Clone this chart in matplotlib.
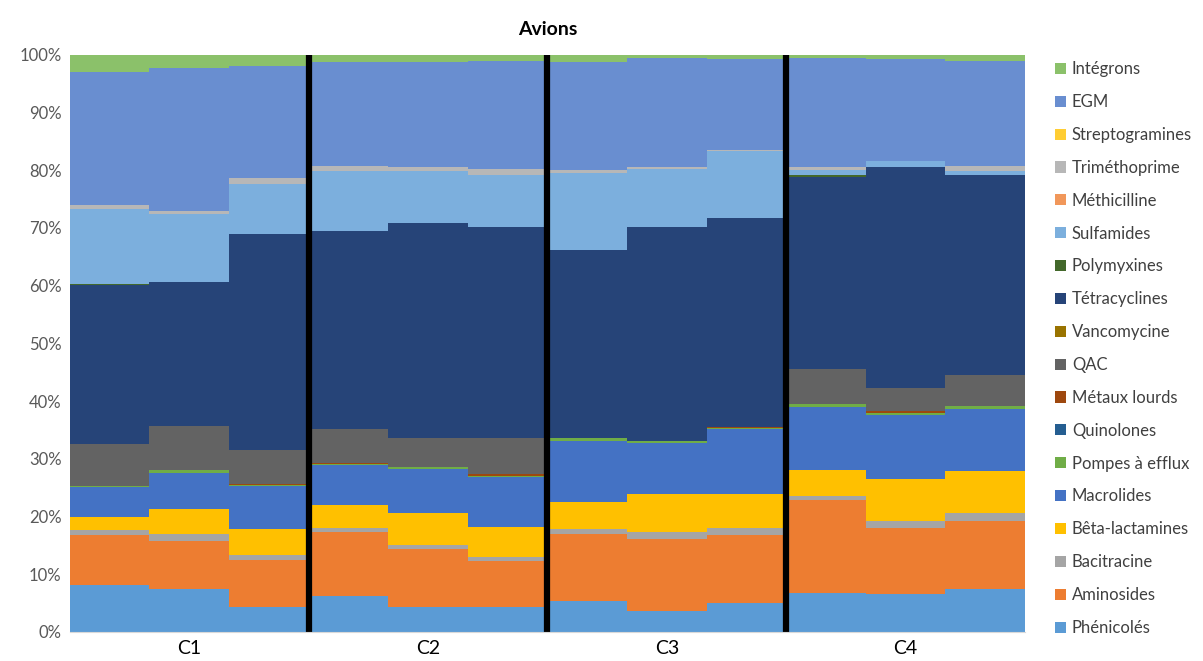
import matplotlib
matplotlib.use("Agg")
import matplotlib.pyplot as plt
import numpy as np

plt.rcParams['font.family'] = ['Lato', 'DejaVu Sans']

# stacking order: bottom -> top
categories = ["Phénicolés", "Aminosides", "Bacitracine", "Bêta-lactamines", "Macrolides",
              "Pompes à efflux", "Quinolones", "Métaux lourds", "QAC", "Vancomycine",
              "Tétracyclines", "Polymyxines", "Sulfamides", "Méthicilline", "Triméthoprime",
              "Streptogramines", "EGM", "Intégrons"]
colors = ["#5B9BD5", "#ED7D31", "#A5A5A5", "#FFC000", "#4472C4",
          "#70AD47", "#255E91", "#9E480E", "#636363", "#997300",
          "#264478", "#43682B", "#7CAFDD", "#F1975A", "#B7B7B7",
          "#FFCD33", "#698ED0", "#8BC16A"]

groups = ["C1", "C2", "C3", "C4"]

# % values per sample (3 samples per group)
phenicoles      = [8.1, 7.4, 4.3, 6.3, 4.3, 4.3, 5.3, 3.7, 5.1, 6.7, 6.5, 7.4]
aminosides      = [8.8, 8.4, 8.2, 11.1, 10.1, 8.0, 11.6, 12.4, 11.8, 16.2, 11.4, 11.8]
bacitracine     = [0.8, 1.1, 0.9, 0.6, 0.6, 0.6, 0.9, 1.3, 1.2, 0.7, 1.3, 1.4]
beta_lactamines = [2.2, 4.4, 4.5, 4.0, 5.6, 5.2, 4.7, 6.5, 5.8, 4.4, 7.3, 7.2]
macrolides      = [5.2, 6.3, 7.4, 7.0, 7.7, 8.8, 10.6, 8.9, 11.3, 10.9, 11.0, 10.8]
pompes          = [0.2, 0.4, 0.15, 0.15, 0.2, 0.2, 0.5, 0.2, 0.2, 0.6, 0.4, 0.6]
quinolones      = [0, 0, 0, 0, 0, 0, 0, 0, 0, 0, 0, 0]
metaux          = [0, 0, 0.15, 0.15, 0, 0.2, 0, 0, 0.15, 0, 0.3, 0]
qac             = [7.3, 7.6, 5.9, 5.8, 5.1, 6.3, 0, 0, 0, 6.0, 4.0, 5.4]
vancomycine     = [0, 0, 0, 0, 0, 0, 0, 0, 0, 0, 0, 0]
tetracyclines   = [27.6, 25.0, 37.5, 34.3, 37.2, 36.5, 32.5, 37.1, 36.3, 33.4, 38.2, 34.5]
polymyxines     = [0.2, 0, 0, 0, 0, 0, 0, 0, 0, 0.3, 0, 0]
sulfamides      = [13.1, 11.8, 8.7, 10.4, 9.0, 9.0, 13.4, 10.2, 11.6, 0.8, 0.9, 0.7]
methicilline    = [0, 0, 0, 0, 0, 0, 0, 0, 0, 0, 0, 0]
trimethoprime   = [0.7, 0.6, 0.9, 0.9, 0.7, 1.1, 0.5, 0.2, 0.2, 0.5, 0, 0.9]
streptogramines = [0, 0, 0, 0, 0, 0, 0, 0, 0, 0, 0, 0]
egm             = [23.1, 24.8, 19.5, 18.0, 18.2, 18.8, 18.7, 18.9, 15.7, 18.9, 17.6, 18.3]
integrons       = [2.9, 2.2, 1.9, 1.3, 1.3, 1.0, 1.3, 0.6, 0.8, 0.6, 0.8, 1.0]

series = [phenicoles, aminosides, bacitracine, beta_lactamines, macrolides, pompes,
          quinolones, metaux, qac, vancomycine, tetracyclines, polymyxines, sulfamides,
          methicilline, trimethoprime, streptogramines, egm, integrons]

data = np.array(series, dtype=float)
data = data / data.sum(axis=0) * 100  # 100% stacked

fig = plt.figure(figsize=(12.03, 6.61), dpi=100)
ax = fig.add_axes([0.058, 0.044, 0.794, 0.873])

x = np.arange(data.shape[1])
bottom = np.zeros(len(x))
handles = []
for name, vals, col in zip(categories, data, colors):
    b = ax.bar(x, vals, bottom=bottom, width=1.0, color=col, linewidth=0, label=name)
    handles.append(b)
    bottom += vals

# black separators between groups
for sep in [2.5, 5.5, 8.5]:
    ax.axvline(sep, ymin=0, ymax=1, color="black", linewidth=4.5)

ax.set_xlim(-0.5, 11.5)
ax.set_ylim(0, 100)
ax.set_yticks(np.arange(0, 101, 10))
ax.set_yticklabels([f"{v}%" for v in range(0, 101, 10)], color="#595959", fontsize=12)
ax.set_xticks([1, 4, 7, 10])
ax.set_xticklabels(groups, fontsize=14, color="black")
ax.tick_params(length=0, pad=6)
for s in ["top", "right", "left"]:
    ax.spines[s].set_visible(False)
ax.spines["bottom"].set_color("#D9D9D9")

ax.set_title("Avions", fontsize=14, fontweight="bold", pad=14)

leg = ax.legend(handles[::-1], categories[::-1], loc="upper left",
                bbox_to_anchor=(1.016, 1.015), frameon=False, fontsize=12,
                handlelength=0.65, handleheight=0.65, handletextpad=0.35,
                labelspacing=1.012, labelcolor="#404040")

plt.savefig("out.png", dpi=100)
